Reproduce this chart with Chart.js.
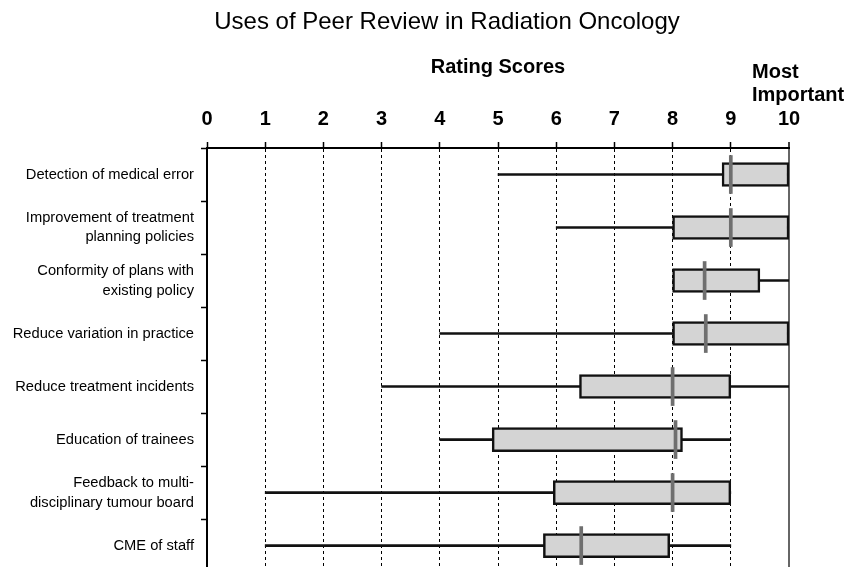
<!DOCTYPE html>
<html>
<head>
<meta charset="utf-8">
<script src="https://cdn.jsdelivr.net/npm/chart.js@4"></script>
<style>
  body { margin: 0; background: #fff; }
  #wrap { width: 856px; height: 567px; overflow: hidden; }
</style>
</head>
<body>
<div id="wrap"><canvas id="c" width="856" height="589"></canvas></div>
<script>
// data
var categories = [
    'Detection of medical error',
    ['Improvement of treatment', 'planning policies'],
    ['Conformity of plans with', 'existing policy'],
    'Reduce variation in practice',
    'Reduce treatment incidents',
    'Education of trainees',
    ['Feedback to multi-', 'disciplinary tumour board'],
    'CME of staff'
];
var minVals = [5, 6, 8, 4, 3, 4, 1, 1];
var q1Vals = [8.85, 8, 8, 8, 6.4, 4.9, 5.95, 5.78];
var medians = [9, 9, 8.55, 8.57, 8, 8.05, 8, 6.43];
var q3Vals = [10, 10, 9.5, 10, 9, 8.17, 9, 7.95];
var maxVals = [10, 10, 10, 10, 10, 9, 9, 9];
var scoreTicks = [0, 1, 2, 3, 4, 5, 6, 7, 8, 9, 10];

var FONT = "'Liberation Sans', Arial, sans-serif";

function pairs(a, b){
    var out = [];
    for (var i = 0; i < a.length; i++) out.push([a[i], b[i]]);
    return out;
}
var medianBars = medians.map(function(m){ return [m - 0.026, m + 0.026]; });

var extraText = {
    id: 'extraText',
    afterDraw: function(chart){
        var ctx = chart.ctx;
        var x10 = chart.scales.x.getPixelForValue(10);
        ctx.save();
        ctx.fillStyle = '#000';
        ctx.textBaseline = 'middle';
        ctx.textAlign = 'center';
        ctx.font = '24px ' + FONT;
        ctx.fillText('Uses of Peer Review in Radiation Oncology', 447, 22);
        ctx.textAlign = 'left';
        ctx.font = 'bold 20px ' + FONT;
        ctx.fillText('Most', x10 - 37, 72);
        ctx.fillText('Important', x10 - 37, 95);
        ctx.restore();
    }
};

new Chart(document.getElementById('c'), {
    type: 'bar',
    data: {
        labels: categories,
        datasets: [
            {   // median
                data: medianBars,
                backgroundColor: '#6f6f6f',
                barThickness: 38,
                grouped: false,
                order: 1
            },
            {   // box
                data: pairs(q1Vals, q3Vals),
                backgroundColor: '#d4d4d4',
                borderColor: '#111',
                borderWidth: 2.5,
                borderSkipped: false,
                barThickness: 24,
                grouped: false,
                order: 2
            },
            {   // whisker
                data: pairs(minVals, maxVals),
                backgroundColor: '#111',
                barThickness: 2,
                grouped: false,
                order: 3
            }
        ]
    },
    options: {
        indexAxis: 'y',
        responsive: false,
        animation: false,
        layout: { padding: { left: 0, right: 67, top: 0, bottom: 8 } },
        plugins: {
            legend: { display: false },
            tooltip: { enabled: false }
        },
        scales: {
            x: {
                position: 'top',
                min: 0,
                max: 10,
                afterFit: function(s){ s.height = 148; },
                afterBuildTicks: function(s){
                    s.ticks = scoreTicks.map(function(v){ return { value: v }; });
                },
                ticks: {
                    autoSkip: false,
                    maxRotation: 0,
                    padding: 11,
                    color: '#000',
                    font: { family: FONT, size: 20, weight: 'bold' }
                },
                title: {
                    display: true,
                    text: 'Rating Scores',
                    color: '#000',
                    font: { family: FONT, size: 20, weight: 'bold' },
                    padding: { top: 55, bottom: 0 }
                },
                grid: {
                    color: function(c){
                        if (c.tick.value === 0) return 'rgba(0,0,0,0)';
                        if (c.tick.value === 10) return '#666';
                        return '#000';
                    },
                    lineWidth: function(c){ return c.tick.value === 10 ? 2 : 1; },
                    tickColor: '#000',
                    tickLength: 6,
                    tickWidth: 1.5,
                    tickBorderDash: []
                },
                border: {
                    color: '#000',
                    width: 2,
                    dash: function(c){ return (c.tick && c.tick.value === 10) ? [] : [3, 3]; }
                }
            },
            y: {
                afterFit: function(s){ s.width = 207; },
                ticks: {
                    padding: 7,
                    color: '#000',
                    font: { family: FONT, size: 14.7, lineHeight: 1.35 }
                },
                grid: {
                    offset: true,
                    drawOnChartArea: false,
                    tickLength: 6,
                    tickColor: '#000',
                    tickWidth: 1.5
                },
                border: { color: '#000', width: 2 }
            }
        }
    },
    plugins: [extraText]
});
</script>
</body>
</html>
